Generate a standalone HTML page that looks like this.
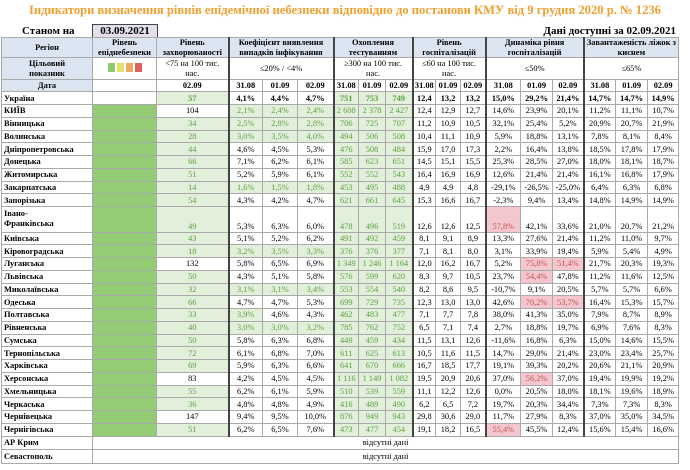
<!DOCTYPE html>
<html><head><meta charset="utf-8"><style>
body{margin:0;width:690px;height:470px;background:#fff;font-family:"Liberation Serif",serif;overflow:hidden;position:relative}
.t{position:absolute;left:0;top:3px;width:690px;text-align:center;color:#f0a030;font-weight:bold;font-size:12.6px;white-space:nowrap}
.st{position:absolute;left:22px;top:25px;font-weight:bold;font-size:11px}
.db{position:absolute;left:92px;top:24px;width:64px;height:12px;background:#e4dfec;border:1px solid #444;font-weight:bold;font-size:11px;text-align:center;line-height:12px}
.dd{position:absolute;right:14px;top:25px;font-weight:bold;font-size:11px}
table{position:absolute;left:1px;top:37px;width:678px;border-collapse:collapse;table-layout:fixed;font-size:8.4px}
td{border:1px solid #aaa;text-align:center;padding:0;white-space:nowrap;overflow:hidden;line-height:11px}
tr{height:12.75px}
td.r{text-align:left;font-weight:bold;padding-left:2px}
.h td{background:#dbe5f1;font-weight:bold;line-height:9.5px;white-space:normal}
.b{font-weight:bold}
.L{border-left:2px solid #444}
.lv{background:#93cc75}
.g{background:#e2efda;color:#5da146}
.p{background:#f4c7ce;color:#c0504d}
.u td{font-weight:bold}
.vb td{vertical-align:bottom}
</style></head><body>
<div class="t">Індикатори визначення рівнів епідемічної небезпеки відповідно до постанови КМУ від 9 грудня 2020 р. № 1236</div>
<div class="st">Станом на</div><div class="db">03.09.2021</div>
<div class="dd">Дані доступні за 02.09.2021</div>
<table>
<colgroup><col style="width:91px"><col style="width:64px"><col style="width:72px"><col style="width:34px"><col style="width:35px"><col style="width:36px"><col style="width:25px"><col style="width:27px"><col style="width:27px"><col style="width:23px"><col style="width:25px"><col style="width:25px"><col style="width:35px"><col style="width:32px"><col style="width:31px"><col style="width:32px"><col style="width:32px"><col style="width:31px"></colgroup>
<tr class="h" style="height:19px"><td>Регіон</td><td>Рівень епіднебезпеки</td><td>Рівень захворюваності</td><td colspan="3" class="L">Коефіцієнт виявлення випадків інфікування</td><td colspan="3" class="L">Охоплення тестуванням</td><td colspan="3" class="L">Рівень госпіталізацій</td><td colspan="3" class="L">Динаміка рівня госпіталізацій</td><td colspan="3" class="L">Завантаженість ліжок з киснем</td></tr>
<tr style="height:22px"><td style="background:#dbe5f1;font-weight:bold;line-height:9.5px">Цільовий<br>показник</td><td><span style="display:inline-block;width:7px;height:9px;background:#8fca6e;margin:0 1px"></span><span style="display:inline-block;width:7px;height:9px;background:#e8e06a;margin:0 1px"></span><span style="display:inline-block;width:7px;height:9px;background:#f0a860;margin:0 1px"></span><span style="display:inline-block;width:7px;height:9px;background:#e06060;margin:0 1px"></span></td><td style="line-height:10px">&lt;75 на 100 тис.<br>нас.</td><td colspan="3" class="L">≤20% / &lt;4%</td><td colspan="3" class="L" style="line-height:10px">≥300 на 100 тис.<br>нас.</td><td colspan="3" class="L" style="line-height:10px">≤60 на 100 тис.<br>нас.</td><td colspan="3" class="L">≤50%</td><td colspan="3" class="L">≤65%</td></tr>
<tr class="b" style="height:12px"><td style="background:#dbe5f1;text-align:center">Дата</td><td></td><td>02.09</td><td class="L">31.08</td><td>01.09</td><td>02.09</td><td class="L">31.08</td><td>01.09</td><td>02.09</td><td class="L">31.08</td><td>01.09</td><td>02.09</td><td class="L">31.08</td><td>01.09</td><td>02.09</td><td class="L">31.08</td><td>01.09</td><td>02.09</td></tr>
<tr class="u" style="height:13px"><td class="r">Україна</td><td></td><td class="g">57</td><td class="L">4,1%</td><td>4,4%</td><td>4,7%</td><td class="L g">751</td><td class="g">753</td><td class="g">749</td><td class="L">12,4</td><td>13,2</td><td>13,2</td><td class="L">15,0%</td><td>29,2%</td><td>21,4%</td><td class="L">14,7%</td><td>14,7%</td><td>14,9%</td></tr>
<tr><td class="r">КИЇВ</td><td class="lv"></td><td>104</td><td class="L g">2,1%</td><td class="g">2,4%</td><td class="g">2,4%</td><td class="L g">2 608</td><td class="g">2 378</td><td class="g">2 427</td><td class="L">12,4</td><td>12,9</td><td>12,7</td><td class="L">14,6%</td><td>23,9%</td><td>20,1%</td><td class="L">11,2%</td><td>11,1%</td><td>10,7%</td></tr>
<tr><td class="r">Вінницька</td><td class="lv"></td><td class="g">34</td><td class="L g">2,5%</td><td class="g">2,8%</td><td class="g">2,8%</td><td class="L g">706</td><td class="g">725</td><td class="g">707</td><td class="L">11,2</td><td>10,9</td><td>10,5</td><td class="L">32,1%</td><td>25,4%</td><td>5,2%</td><td class="L">20,9%</td><td>20,7%</td><td>21,9%</td></tr>
<tr><td class="r">Волинська</td><td class="lv"></td><td class="g">28</td><td class="L g">3,0%</td><td class="g">3,5%</td><td class="g">4,0%</td><td class="L g">494</td><td class="g">506</td><td class="g">508</td><td class="L">10,4</td><td>11,1</td><td>10,9</td><td class="L">5,9%</td><td>18,8%</td><td>13,1%</td><td class="L">7,8%</td><td>8,1%</td><td>8,4%</td></tr>
<tr><td class="r">Дніпропетровська</td><td class="lv"></td><td class="g">44</td><td class="L">4,6%</td><td>4,5%</td><td>5,3%</td><td class="L g">476</td><td class="g">508</td><td class="g">484</td><td class="L">15,9</td><td>17,0</td><td>17,3</td><td class="L">2,2%</td><td>16,4%</td><td>13,8%</td><td class="L">18,5%</td><td>17,8%</td><td>17,9%</td></tr>
<tr><td class="r">Донецька</td><td class="lv"></td><td class="g">66</td><td class="L">7,1%</td><td>6,2%</td><td>6,1%</td><td class="L g">585</td><td class="g">623</td><td class="g">651</td><td class="L">14,5</td><td>15,1</td><td>15,5</td><td class="L">25,3%</td><td>28,5%</td><td>27,0%</td><td class="L">18,0%</td><td>18,1%</td><td>18,7%</td></tr>
<tr><td class="r">Житомирська</td><td class="lv"></td><td class="g">51</td><td class="L">5,2%</td><td>5,9%</td><td>6,1%</td><td class="L g">552</td><td class="g">552</td><td class="g">543</td><td class="L">16,4</td><td>16,9</td><td>16,9</td><td class="L">12,6%</td><td>21,4%</td><td>21,4%</td><td class="L">16,1%</td><td>16,8%</td><td>17,9%</td></tr>
<tr><td class="r">Закарпатська</td><td class="lv"></td><td class="g">14</td><td class="L g">1,6%</td><td class="g">1,5%</td><td class="g">1,8%</td><td class="L g">453</td><td class="g">495</td><td class="g">488</td><td class="L">4,9</td><td>4,9</td><td>4,8</td><td class="L">-29,1%</td><td>-26,5%</td><td>-25,0%</td><td class="L">6,4%</td><td>6,3%</td><td>6,8%</td></tr>
<tr><td class="r">Запорізька</td><td class="lv"></td><td class="g">54</td><td class="L">4,3%</td><td>4,2%</td><td>4,7%</td><td class="L g">621</td><td class="g">661</td><td class="g">645</td><td class="L">15,3</td><td>16,6</td><td>16,7</td><td class="L">-2,3%</td><td>9,4%</td><td>13,4%</td><td class="L">14,8%</td><td>14,9%</td><td>14,9%</td></tr>
<tr class="vb" style="height:25.5px"><td class="r" style="line-height:10px;vertical-align:middle">Івано-<br>Франківська</td><td class="lv"></td><td class="g">49</td><td class="L">5,3%</td><td>6,3%</td><td>6,0%</td><td class="L g">478</td><td class="g">496</td><td class="g">519</td><td class="L">12,6</td><td>12,6</td><td>12,5</td><td class="L p">57,8%</td><td>42,1%</td><td>33,6%</td><td class="L">21,0%</td><td>20,7%</td><td>21,2%</td></tr>
<tr><td class="r">Київська</td><td class="lv"></td><td class="g">43</td><td class="L">5,1%</td><td>5,2%</td><td>6,2%</td><td class="L g">491</td><td class="g">492</td><td class="g">459</td><td class="L">8,1</td><td>9,1</td><td>8,9</td><td class="L">13,3%</td><td>27,6%</td><td>21,4%</td><td class="L">11,2%</td><td>11,0%</td><td>9,7%</td></tr>
<tr><td class="r">Кіровоградська</td><td class="lv"></td><td class="g">18</td><td class="L g">3,2%</td><td class="g">3,5%</td><td class="g">3,3%</td><td class="L g">376</td><td class="g">376</td><td class="g">377</td><td class="L">7,1</td><td>8,1</td><td>8,0</td><td class="L">3,1%</td><td>33,9%</td><td>19,4%</td><td class="L">5,9%</td><td>5,4%</td><td>4,9%</td></tr>
<tr><td class="r">Луганська</td><td class="lv"></td><td>132</td><td class="L">5,8%</td><td>6,5%</td><td>6,9%</td><td class="L g">1 349</td><td class="g">1 246</td><td class="g">1 164</td><td class="L">12,0</td><td>16,2</td><td>16,7</td><td class="L">5,2%</td><td class="p">75,8%</td><td class="p">51,4%</td><td class="L">21,7%</td><td>20,3%</td><td>19,3%</td></tr>
<tr><td class="r">Львівська</td><td class="lv"></td><td class="g">50</td><td class="L">4,3%</td><td>5,1%</td><td>5,8%</td><td class="L g">576</td><td class="g">599</td><td class="g">620</td><td class="L">8,3</td><td>9,7</td><td>10,5</td><td class="L">23,7%</td><td class="p">54,4%</td><td>47,8%</td><td class="L">11,2%</td><td>11,6%</td><td>12,5%</td></tr>
<tr><td class="r">Миколаївська</td><td class="lv"></td><td class="g">32</td><td class="L g">3,1%</td><td class="g">3,1%</td><td class="g">3,4%</td><td class="L g">553</td><td class="g">554</td><td class="g">540</td><td class="L">8,2</td><td>8,6</td><td>9,5</td><td class="L">-10,7%</td><td>9,1%</td><td>20,5%</td><td class="L">5,7%</td><td>5,7%</td><td>6,6%</td></tr>
<tr><td class="r">Одеська</td><td class="lv"></td><td class="g">66</td><td class="L">4,7%</td><td>4,7%</td><td>5,3%</td><td class="L g">699</td><td class="g">729</td><td class="g">735</td><td class="L">12,3</td><td>13,0</td><td>13,0</td><td class="L">42,6%</td><td class="p">70,2%</td><td class="p">53,7%</td><td class="L">16,4%</td><td>15,3%</td><td>15,7%</td></tr>
<tr><td class="r">Полтавська</td><td class="lv"></td><td class="g">33</td><td class="L g">3,9%</td><td>4,6%</td><td>4,3%</td><td class="L g">462</td><td class="g">483</td><td class="g">477</td><td class="L">7,1</td><td>7,7</td><td>7,8</td><td class="L">38,0%</td><td>41,3%</td><td>35,0%</td><td class="L">7,9%</td><td>8,7%</td><td>8,9%</td></tr>
<tr><td class="r">Рівненська</td><td class="lv"></td><td class="g">40</td><td class="L g">3,0%</td><td class="g">3,0%</td><td class="g">3,2%</td><td class="L g">785</td><td class="g">762</td><td class="g">752</td><td class="L">6,5</td><td>7,1</td><td>7,4</td><td class="L">2,7%</td><td>18,8%</td><td>19,7%</td><td class="L">6,9%</td><td>7,6%</td><td>8,3%</td></tr>
<tr><td class="r">Сумська</td><td class="lv"></td><td class="g">50</td><td class="L">5,8%</td><td>6,3%</td><td>6,8%</td><td class="L g">449</td><td class="g">459</td><td class="g">434</td><td class="L">11,5</td><td>13,1</td><td>12,6</td><td class="L">-11,6%</td><td>16,8%</td><td>6,3%</td><td class="L">15,0%</td><td>14,6%</td><td>15,5%</td></tr>
<tr><td class="r">Тернопільська</td><td class="lv"></td><td class="g">72</td><td class="L">6,1%</td><td>6,8%</td><td>7,0%</td><td class="L g">611</td><td class="g">625</td><td class="g">613</td><td class="L">10,5</td><td>11,6</td><td>11,5</td><td class="L">14,7%</td><td>29,0%</td><td>21,4%</td><td class="L">23,0%</td><td>23,4%</td><td>25,7%</td></tr>
<tr><td class="r">Харківська</td><td class="lv"></td><td class="g">69</td><td class="L">5,9%</td><td>6,3%</td><td>6,6%</td><td class="L g">641</td><td class="g">670</td><td class="g">666</td><td class="L">16,7</td><td>18,5</td><td>17,7</td><td class="L">19,1%</td><td>39,3%</td><td>20,2%</td><td class="L">20,6%</td><td>21,1%</td><td>20,9%</td></tr>
<tr><td class="r">Херсонська</td><td class="lv"></td><td>83</td><td class="L">4,2%</td><td>4,5%</td><td>4,5%</td><td class="L g">1 116</td><td class="g">1 149</td><td class="g">1 082</td><td class="L">19,5</td><td>20,9</td><td>20,6</td><td class="L">37,0%</td><td class="p">56,2%</td><td>37,0%</td><td class="L">19,4%</td><td>19,9%</td><td>19,2%</td></tr>
<tr><td class="r">Хмельницька</td><td class="lv"></td><td class="g">55</td><td class="L">6,2%</td><td>6,1%</td><td>5,9%</td><td class="L g">510</td><td class="g">539</td><td class="g">559</td><td class="L">11,1</td><td>12,2</td><td>12,6</td><td class="L">0,0%</td><td>20,5%</td><td>18,0%</td><td class="L">18,1%</td><td>19,6%</td><td>18,9%</td></tr>
<tr><td class="r">Черкаська</td><td class="lv"></td><td class="g">36</td><td class="L">4,8%</td><td>4,8%</td><td>4,9%</td><td class="L g">416</td><td class="g">489</td><td class="g">490</td><td class="L">6,2</td><td>6,5</td><td>7,2</td><td class="L">19,7%</td><td>20,3%</td><td>34,4%</td><td class="L">7,3%</td><td>7,3%</td><td>8,3%</td></tr>
<tr><td class="r">Чернівецька</td><td class="lv"></td><td>147</td><td class="L">9,4%</td><td>9,5%</td><td>10,0%</td><td class="L g">876</td><td class="g">949</td><td class="g">943</td><td class="L">29,8</td><td>30,6</td><td>29,0</td><td class="L">11,7%</td><td>27,9%</td><td>8,3%</td><td class="L">37,0%</td><td>35,0%</td><td>34,5%</td></tr>
<tr><td class="r">Чернігівська</td><td class="lv"></td><td class="g">51</td><td class="L">6,2%</td><td>6,5%</td><td>7,6%</td><td class="L g">473</td><td class="g">477</td><td class="g">454</td><td class="L">19,1</td><td>18,2</td><td>16,5</td><td class="L p">55,4%</td><td>45,5%</td><td>12,4%</td><td class="L">15,6%</td><td>15,4%</td><td>16,6%</td></tr>
<tr style="height:13.5px"><td class="r">АР Крим</td><td colspan="17">відсутні дані</td></tr>
<tr style="height:13.5px"><td class="r">Севастополь</td><td colspan="17">відсутні дані</td></tr>
</table>
</body></html>
